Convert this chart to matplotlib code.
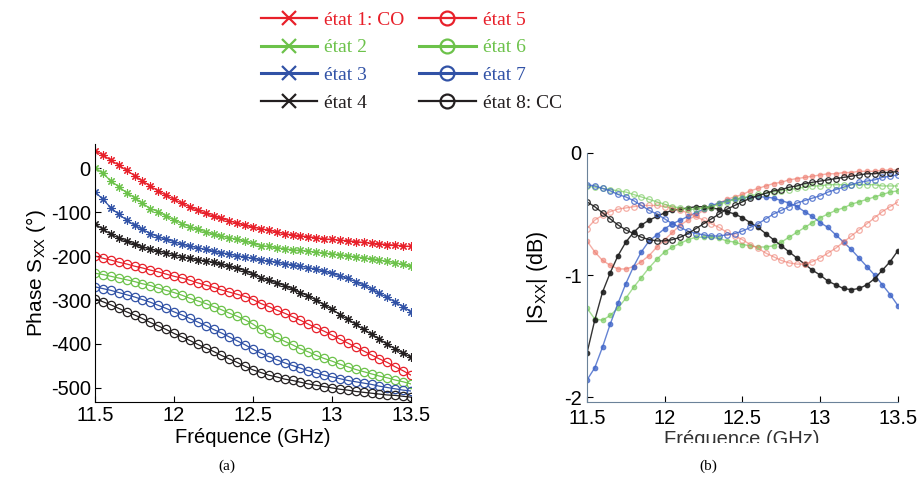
import matplotlib
matplotlib.use("Agg")
import matplotlib.pyplot as plt
from matplotlib.lines import Line2D
from matplotlib.transforms import Bbox, TransformedBbox

plt.rcParams['font.family'] = ['Liberation Sans', 'DejaVu Sans']
plt.rcParams['mathtext.fontset'] = 'custom'
plt.rcParams['mathtext.rm'] = 'Liberation Sans'
plt.rcParams['mathtext.it'] = 'Liberation Sans:italic'
plt.rcParams['axes.unicode_minus'] = False

# frequency grid (GHz)
freq = [11.5, 11.55, 11.6, 11.65, 11.7, 11.75, 11.8, 11.85, 11.9, 11.95,
        12.0, 12.05, 12.1, 12.15, 12.2, 12.25, 12.3, 12.35, 12.4, 12.45,
        12.5, 12.55, 12.6, 12.65, 12.7, 12.75, 12.8, 12.85, 12.9, 12.95,
        13.0, 13.05, 13.1, 13.15, 13.2, 13.25, 13.3, 13.35, 13.4, 13.45, 13.5]

labels = ['état 1: CO', 'état 2', 'état 3', 'état 4',
          'état 5', 'état 6', 'état 7', 'état 8: CC']

# (a) phase S_XX (deg)
phase_e1 = [39, 30, 18, 7, -5, -17, -29, -41, -52, -62, -71, -80, -88, -96, -103, -109, -114, -120, -125, -130,
            -134, -138, -141, -145, -149, -152, -154, -156, -158, -161, -162, -164, -165, -167, -169, -171, -172,
            -174, -175, -177, -178]
phase_e2 = [1, -12, -29, -42, -56, -67, -80, -92, -99, -109, -118, -126, -133, -139, -145, -150, -155, -158, -162,
            -166, -171, -176, -178, -181, -183, -186, -187, -189, -191, -193, -195, -197, -199, -202, -204, -206,
            -209, -212, -215, -219, -223]
phase_e3 = [-54, -71, -90, -105, -118, -130, -139, -149, -156, -162, -167, -173, -177, -181, -185, -189, -192, -196,
            -199, -202, -205, -209, -211, -214, -217, -220, -223, -226, -230, -234, -239, -245, -251, -258, -266,
            -275, -285, -294, -305, -315, -327]
phase_e4 = [-127, -139, -150, -159, -166, -173, -179, -184, -189, -192, -197, -201, -205, -208, -211, -214, -218,
            -223, -228, -233, -241, -249, -255, -261, -267, -275, -283, -291, -300, -311, -321, -333, -344, -355,
            -367, -378, -389, -401, -411, -421, -430]
phase_e5 = [-200, -205, -209, -214, -218, -223, -227, -232, -236, -241, -246, -250, -255, -261, -266, -271, -277,
            -282, -287, -292, -299, -308, -315, -323, -330, -338, -346, -355, -363, -371, -380, -389, -398, -407,
            -416, -425, -434, -442, -452, -461, -471]
phase_e6 = [-239, -242, -246, -250, -254, -258, -263, -267, -273, -278, -283, -289, -296, -302, -308, -315, -322,
            -330, -337, -345, -355, -367, -376, -385, -394, -402, -411, -418, -426, -433, -439, -446, -452, -458,
            -463, -468, -473, -477, -482, -486, -491]
phase_e7 = [-270, -274, -278, -283, -288, -293, -299, -305, -312, -319, -327, -334, -342, -350, -358, -367, -375,
            -384, -393, -402, -412, -421, -429, -436, -443, -449, -455, -461, -466, -471, -475, -479, -483, -486,
            -489, -492, -496, -499, -502, -505, -507]
phase_e8 = [-297, -304, -311, -319, -327, -334, -342, -351, -359, -367, -376, -384, -392, -401, -409, -417, -426,
            -434, -442, -451, -459, -465, -471, -475, -480, -483, -487, -491, -494, -497, -500, -503, -505, -508,
            -510, -512, -514, -516, -517, -519, -521]

# (b) |S_XX| (dB)
mag_e1 = [-0.72, -0.81, -0.88, -0.92, -0.95, -0.95, -0.93, -0.89, -0.84, -0.77, -0.71, -0.65, -0.59, -0.55, -0.51,
          -0.47, -0.44, -0.41, -0.38, -0.36, -0.34, -0.31, -0.29, -0.27, -0.25, -0.24, -0.22, -0.21, -0.20, -0.19,
          -0.18, -0.17, -0.17, -0.16, -0.16, -0.15, -0.15, -0.15, -0.14, -0.14, -0.14]
mag_e2 = [-1.27, -1.36, -1.37, -1.33, -1.27, -1.19, -1.10, -1.02, -0.94, -0.87, -0.81, -0.77, -0.74, -0.71, -0.69,
          -0.69, -0.69, -0.70, -0.72, -0.73, -0.75, -0.76, -0.77, -0.77, -0.76, -0.73, -0.69, -0.65, -0.61, -0.57,
          -0.53, -0.50, -0.47, -0.45, -0.42, -0.40, -0.38, -0.36, -0.34, -0.32, -0.31]
mag_e3 = [-1.86, -1.76, -1.59, -1.40, -1.23, -1.07, -0.93, -0.81, -0.72, -0.67, -0.62, -0.58, -0.55, -0.52, -0.49,
          -0.46, -0.43, -0.41, -0.39, -0.38, -0.37, -0.36, -0.36, -0.36, -0.37, -0.39, -0.41, -0.44, -0.48, -0.52,
          -0.57, -0.61, -0.67, -0.73, -0.79, -0.86, -0.93, -1.00, -1.08, -1.16, -1.25]
mag_e4 = [-1.64, -1.37, -1.14, -0.98, -0.84, -0.73, -0.65, -0.59, -0.55, -0.52, -0.49, -0.47, -0.46, -0.45, -0.44,
          -0.44, -0.45, -0.46, -0.48, -0.50, -0.53, -0.57, -0.61, -0.66, -0.71, -0.76, -0.81, -0.86, -0.91, -0.96,
          -1.00, -1.05, -1.08, -1.11, -1.12, -1.11, -1.08, -1.03, -0.96, -0.89, -0.80]
mag_e5 = [-0.62, -0.55, -0.51, -0.48, -0.46, -0.45, -0.44, -0.43, -0.43, -0.43, -0.44, -0.45, -0.47, -0.49, -0.52,
          -0.55, -0.58, -0.61, -0.65, -0.68, -0.71, -0.75, -0.78, -0.82, -0.85, -0.88, -0.90, -0.91, -0.91, -0.89,
          -0.86, -0.82, -0.78, -0.73, -0.68, -0.63, -0.58, -0.53, -0.48, -0.44, -0.40]
mag_e6 = [-0.27, -0.28, -0.29, -0.30, -0.31, -0.32, -0.34, -0.36, -0.38, -0.40, -0.42, -0.44, -0.45, -0.46, -0.46,
          -0.45, -0.44, -0.42, -0.40, -0.38, -0.37, -0.35, -0.34, -0.33, -0.32, -0.31, -0.30, -0.29, -0.28, -0.27,
          -0.27, -0.26, -0.26, -0.26, -0.26, -0.26, -0.26, -0.26, -0.27, -0.27, -0.27]
mag_e7 = [-0.26, -0.27, -0.29, -0.31, -0.34, -0.36, -0.39, -0.43, -0.47, -0.50, -0.54, -0.58, -0.61, -0.64, -0.66,
          -0.67, -0.68, -0.68, -0.67, -0.66, -0.64, -0.61, -0.58, -0.54, -0.50, -0.47, -0.44, -0.41, -0.39, -0.37,
          -0.35, -0.32, -0.30, -0.28, -0.26, -0.24, -0.23, -0.22, -0.20, -0.19, -0.18]
mag_e8 = [-0.40, -0.44, -0.49, -0.54, -0.59, -0.63, -0.66, -0.69, -0.71, -0.72, -0.72, -0.71, -0.69, -0.66, -0.62,
          -0.58, -0.54, -0.50, -0.46, -0.43, -0.40, -0.37, -0.35, -0.33, -0.31, -0.30, -0.28, -0.27, -0.25, -0.24,
          -0.23, -0.22, -0.21, -0.20, -0.19, -0.18, -0.17, -0.17, -0.16, -0.16, -0.15]

phases = [phase_e1, phase_e2, phase_e3, phase_e4, phase_e5, phase_e6, phase_e7, phase_e8]
mags = [mag_e1, mag_e2, mag_e3, mag_e4, mag_e5, mag_e6, mag_e7, mag_e8]

cols = ['#e8202a', '#6cc24a', '#3152a6', '#231f20'] * 2
cols_b = ['#ee7a6c', '#74c95a', '#3e64c8', '#1e1e1e'] * 2
alpha_b = [0.6, 0.65, 0.8, 0.9] * 2
star = (8, 2, 0)

fig = plt.figure(figsize=(9.2, 4.84), dpi=100)

# ---- (a) phase
ax1 = fig.add_axes([0.1033, 0.1694, 0.3435, 0.5331])
for i in range(8):
    if i < 4:
        ax1.plot(freq, phases[i], color=cols[i], lw=0.9, marker=star, ms=6, mew=0.8)
    else:
        ax1.plot(freq, phases[i], color=cols[i], lw=0.9, marker='o', ms=6, mfc='none', mew=0.9)
ax1.set_xlim(11.5, 13.5)
ax1.set_ylim(-532, 55)
ax1.set_xticks([11.5, 12, 12.5, 13, 13.5])
ax1.set_xticklabels(['11.5', '12', '12.5', '13', '13.5'])
ax1.set_yticks([0, -100, -200, -300, -400, -500])
ax1.set_xlabel('Fréquence (GHz)', fontsize=14.5, labelpad=2)
ax1.set_ylabel('Phase S$_{\\mathrm{XX}}$ (°)', fontsize=15, labelpad=2)

# ---- (b) magnitude
ax2 = fig.add_axes([0.638, 0.1694, 0.338, 0.5145])
for i in range(8):
    if i < 4:
        ax2.plot(freq, mags[i], color=cols_b[i], lw=1.0, alpha=alpha_b[i], marker='o', ms=3.5, mew=0.6)
    else:
        ax2.plot(freq, mags[i], color=cols_b[i], lw=1.0, alpha=alpha_b[i], marker='o', ms=4, mfc='none', mew=0.9)
ax2.set_xlim(11.5, 13.5)
ax2.set_ylim(-2.04, 0)
ax2.set_xticks([11.5, 12, 12.5, 13, 13.5])
ax2.set_xticklabels(['11.5', '12', '12.5', '13', '13.5'])
ax2.set_yticks([0, -1, -2])
ax2.set_ylabel('|S$_{\\mathrm{XX}}$| (dB)', fontsize=15.5, labelpad=10)

for ax in (ax1, ax2):
    ax.spines['top'].set_visible(False)
    ax.spines['right'].set_visible(False)
    ax.tick_params(direction='in', labelsize=14.5, length=4, pad=3)
ax2.tick_params(axis='x', pad=5)
ax2.tick_params(axis='y', pad=4)
for s in ('left', 'bottom'):
    ax2.spines[s].set_color('#6b8299')

# clipped x label of (b), as in the scanned original
xl = fig.text(0.8065, 0.092, 'Fréquence (GHz)', ha='center', va='center', fontsize=14.5, color='#333333')
xl.set_clip_box(TransformedBbox(Bbox([[0, 0.085], [1, 0.2]]), fig.transFigure))
xl.set_clip_on(True)

fig.text(227 / 920, 1 - 466 / 484, '(a)', ha='center', va='center', fontsize=11, family='Liberation Serif')
fig.text(708 / 920, 1 - 466 / 484, '(b)', ha='center', va='center', fontsize=11, family='Liberation Serif')

# ---- legend
handles = []
for i in range(8):
    lw = 2.2 if i in (1, 2, 5, 6) else 1.6
    if i < 4:
        h = Line2D([], [], color=cols[i], lw=lw, marker='x', ms=10, mew=1.6)
    else:
        h = Line2D([], [], color=cols[i], lw=lw, marker='o', ms=10, mfc='none', mew=1.6)
    handles.append(h)
fig.legend(handles, labels, ncol=2, loc='upper left', bbox_to_anchor=(261 / 920, 1 - 11 / 484),
           frameon=False, prop={'family': 'Liberation Serif', 'size': 14}, labelcolor='linecolor',
           handlelength=2.9, handletextpad=0.36, columnspacing=0.75, labelspacing=0.52,
           borderpad=0, borderaxespad=0, numpoints=1)

fig.savefig('out.png', dpi=100)
